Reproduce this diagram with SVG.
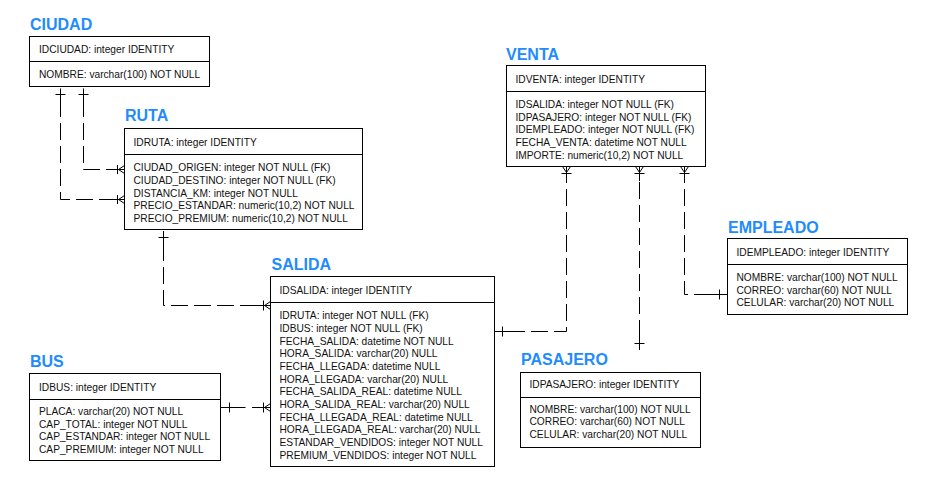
<svg xmlns="http://www.w3.org/2000/svg" width="926" height="486" viewBox="0 0 926 486">
<style>
.bg{fill:#ffffff}
.box{fill:#ffffff;stroke:#000;stroke-width:1}
.div{stroke:#000;stroke-width:1;fill:none}
.title{font-family:"Liberation Sans",Arial,sans-serif;font-weight:bold;font-size:16px;fill:#1E8CFF}
.t{font-family:"Liberation Sans",Arial,sans-serif;font-size:10.2px;fill:#111}
.dash{stroke:#000;stroke-width:1;fill:none;stroke-dasharray:17 6}
.solid{stroke:#000;stroke-width:1;fill:none}
</style>
<rect class="bg" x="0" y="0" width="926" height="486"/>

<g id="connectors">
  <!-- CIUDAD -> RUTA (origen) -->
  <g id="c-ciudad-ruta-origen">
    <path class="dash" d="M83.5,100 V169.5 H110"/>
    <path class="solid" d="M83.5,88.5 V100 M78.5,94.5 H88.5"/>
    <path class="solid" d="M108,169.5 H124.5 M117.5,165 V174 M118.5,169.5 L124.5,165.5 M118.5,169.5 L124.5,173.5"/>
  </g>
  <!-- CIUDAD -> RUTA (destino) -->
  <g id="c-ciudad-ruta-destino">
    <path class="dash" d="M60.5,100 V199.5 H110"/>
    <path class="solid" d="M60.5,88.5 V100 M55.5,94.5 H65.5"/>
    <path class="solid" d="M108,199.5 H124.5 M117.5,195 V204 M118.5,199.5 L124.5,195.5 M118.5,199.5 L124.5,203.5"/>
  </g>
  <!-- RUTA -> SALIDA -->
  <g id="c-ruta-salida">
    <path class="dash" d="M163.5,244 V305.5 H254"/>
    <path class="solid" d="M163.5,231 V244 M158.5,237.5 H168.5"/>
    <path class="solid" d="M252,305.5 H270.5 M263.5,300.5 V310.5 M264.5,305.5 L270.5,301.5 M264.5,305.5 L270.5,309.5"/>
  </g>
  <!-- BUS -> SALIDA -->
  <g id="c-bus-salida">
    <path class="solid" d="M221,407.5 H245.5 M229.5,402.5 V412.5"/>
    <path class="solid" d="M252,407.5 H270.5 M263.5,402.5 V412.5 M264.5,407.5 L270.5,403.5 M264.5,407.5 L270.5,411.5"/>
  </g>
  <!-- SALIDA -> VENTA -->
  <g id="c-salida-venta">
    <path class="dash" d="M508,331.5 H566.5 V180"/>
    <path class="solid" d="M495,331.5 H508 M502.5,326.5 V336.5"/>
    <path class="solid" d="M566.5,181 V166.5 M561.5,173.5 H571.5 M566.5,172.5 L562.5,166.5 M566.5,172.5 L570.5,166.5"/>
  </g>
  <!-- PASAJERO -> VENTA -->
  <g id="c-pasajero-venta">
    <path class="dash" d="M639.5,337 V180"/>
    <path class="solid" d="M639.5,350 V337 M634.5,343.5 H644.5"/>
    <path class="solid" d="M639.5,181 V166.5 M634.5,173.5 H644.5 M639.5,172.5 L635.5,166.5 M639.5,172.5 L643.5,166.5"/>
  </g>
  <!-- EMPLEADO -> VENTA -->
  <g id="c-empleado-venta">
    <path class="dash" d="M711,294.5 H684.5 V180"/>
    <path class="solid" d="M727,294.5 H711 M719.5,289.5 V299.5"/>
    <path class="solid" d="M684.5,181 V166.5 M679.5,173.5 H689.5 M684.5,172.5 L680.5,166.5 M684.5,172.5 L688.5,166.5"/>
  </g>
</g>

<g id="CIUDAD">
  <text class="title" x="30" y="30">CIUDAD</text>
  <rect class="box" x="29.5" y="36.5" width="180" height="50"/>
  <path class="div" d="M29.5,61.5 H209.5"/>
  <text class="t" x="39" y="53.3">IDCIUDAD: integer IDENTITY</text>
  <text class="t" x="39" y="78">NOMBRE: varchar(100) NOT NULL</text>
</g>

<g id="RUTA">
  <text class="title" x="125" y="121">RUTA</text>
  <rect class="box" x="124.5" y="128.5" width="238" height="101"/>
  <path class="div" d="M124.5,154.5 H362.5"/>
  <text class="t" x="133.5" y="145.5">IDRUTA: integer IDENTITY</text>
  <text class="t" x="133.5" y="171">CIUDAD_ORIGEN: integer NOT NULL (FK)</text>
  <text class="t" x="133.5" y="183.8">CIUDAD_DESTINO: integer NOT NULL (FK)</text>
  <text class="t" x="133.5" y="196.6">DISTANCIA_KM: integer NOT NULL</text>
  <text class="t" x="133.5" y="209.4">PRECIO_ESTANDAR: numeric(10,2) NOT NULL</text>
  <text class="t" x="133.5" y="222.2">PRECIO_PREMIUM: numeric(10,2) NOT NULL</text>
</g>

<g id="VENTA">
  <text class="title" x="506" y="60">VENTA</text>
  <rect class="box" x="506.5" y="65.5" width="199" height="101"/>
  <path class="div" d="M506.5,91.5 H705.5"/>
  <text class="t" x="515.5" y="83.3">IDVENTA: integer IDENTITY</text>
  <text class="t" x="515.5" y="107.8">IDSALIDA: integer NOT NULL (FK)</text>
  <text class="t" x="515.5" y="120.6">IDPASAJERO: integer NOT NULL (FK)</text>
  <text class="t" x="515.5" y="133.4">IDEMPLEADO: integer NOT NULL (FK)</text>
  <text class="t" x="515.5" y="146.2">FECHA_VENTA: datetime NOT NULL</text>
  <text class="t" x="515.5" y="159">IMPORTE: numeric(10,2) NOT NULL</text>
</g>

<g id="EMPLEADO">
  <text class="title" x="728" y="232.7">EMPLEADO</text>
  <rect class="box" x="727.5" y="238.5" width="180" height="76"/>
  <path class="div" d="M727.5,264.5 H907.5"/>
  <text class="t" x="736.5" y="256">IDEMPLEADO: integer IDENTITY</text>
  <text class="t" x="736.5" y="280.7">NOMBRE: varchar(100) NOT NULL</text>
  <text class="t" x="736.5" y="293.5">CORREO: varchar(60) NOT NULL</text>
  <text class="t" x="736.5" y="306.3">CELULAR: varchar(20) NOT NULL</text>
</g>

<g id="SALIDA">
  <text class="title" x="271.5" y="270">SALIDA</text>
  <rect class="box" x="270.5" y="276.5" width="224" height="190"/>
  <path class="div" d="M270.5,302.5 H494.5"/>
  <text class="t" x="279.5" y="294">IDSALIDA: integer IDENTITY</text>
  <text class="t" x="279.5" y="319.3">IDRUTA: integer NOT NULL (FK)</text>
  <text class="t" x="279.5" y="332">IDBUS: integer NOT NULL (FK)</text>
  <text class="t" x="279.5" y="344.7">FECHA_SALIDA: datetime NOT NULL</text>
  <text class="t" x="279.5" y="357.3">HORA_SALIDA: varchar(20) NULL</text>
  <text class="t" x="279.5" y="370">FECHA_LLEGADA: datetime NULL</text>
  <text class="t" x="279.5" y="382.7">HORA_LLEGADA: varchar(20) NULL</text>
  <text class="t" x="279.5" y="395.3">FECHA_SALIDA_REAL: datetime NULL</text>
  <text class="t" x="279.5" y="408">HORA_SALIDA_REAL: varchar(20) NULL</text>
  <text class="t" x="279.5" y="420.7">FECHA_LLEGADA_REAL: datetime NULL</text>
  <text class="t" x="279.5" y="433.3">HORA_LLEGADA_REAL: varchar(20) NULL</text>
  <text class="t" x="279.5" y="446">ESTANDAR_VENDIDOS: integer NOT NULL</text>
  <text class="t" x="279.5" y="458.7">PREMIUM_VENDIDOS: integer NOT NULL</text>
</g>

<g id="BUS">
  <text class="title" x="30" y="366.7">BUS</text>
  <rect class="box" x="29.5" y="373.5" width="191" height="87"/>
  <path class="div" d="M29.5,399.5 H220.5"/>
  <text class="t" x="39" y="390.7">IDBUS: integer IDENTITY</text>
  <text class="t" x="39" y="415">PLACA: varchar(20) NOT NULL</text>
  <text class="t" x="39" y="427.7">CAP_TOTAL: integer NOT NULL</text>
  <text class="t" x="39" y="440.4">CAP_ESTANDAR: integer NOT NULL</text>
  <text class="t" x="39" y="453.1">CAP_PREMIUM: integer NOT NULL</text>
</g>

<g id="PASAJERO">
  <text class="title" x="521" y="365">PASAJERO</text>
  <rect class="box" x="520.5" y="372.5" width="180" height="75"/>
  <path class="div" d="M520.5,397.5 H700.5"/>
  <text class="t" x="529.5" y="388.3">IDPASAJERO: integer IDENTITY</text>
  <text class="t" x="529.5" y="412.7">NOMBRE: varchar(100) NOT NULL</text>
  <text class="t" x="529.5" y="425.4">CORREO: varchar(60) NOT NULL</text>
  <text class="t" x="529.5" y="438.1">CELULAR: varchar(20) NOT NULL</text>
</g>
</svg>
